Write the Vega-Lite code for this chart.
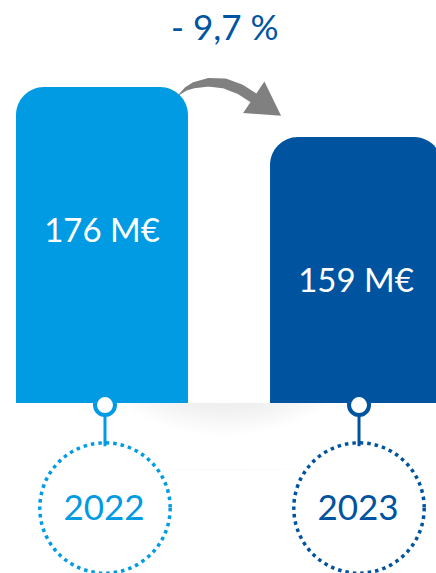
{
  "$schema": "https://vega.github.io/schema/vega-lite/v6.json",
  "width": 436,
  "height": 573,
  "padding": 0,
  "autosize": "none",
  "background": "white",
  "config": {"view": {"stroke": null}, "font": "Lato"},
  "datasets": {
    "bars": [
      {"year": "2022", "value": 176, "label": "176 M€"},
      {"year": "2023", "value": 159, "label": "159 M€"}
    ],
    "arrow": [
      {"i": 0, "x": 184, "y": 173.2, "w": 0.5},
      {"i": 1, "x": 192, "y": 175.4, "w": 3.5},
      {"i": 2, "x": 200, "y": 176.6, "w": 6},
      {"i": 3, "x": 215, "y": 177.6, "w": 8.5},
      {"i": 4, "x": 232, "y": 177.2, "w": 10},
      {"i": 5, "x": 248, "y": 175.2, "w": 10.5},
      {"i": 6, "x": 264, "y": 171.8, "w": 10.5}
    ],
    "head": [{"x": 276, "y": 169.4}],
    "shadow": [{"x": 30, "x2": 436, "y": 68.6, "y2": 46}],
    "title": [{"x": 232, "y": 195.8, "t": "- 9,7 %"}]
  },
  "resolve": {"scale": {"x": "independent"}},
  "layer": [
    {
      "layer": [
        {
          "data": {"name": "shadow"},
          "mark": {
            "type": "rect",
            "strokeWidth": 0,
            "fill": {
              "gradient": "radial",
              "x1": 0.5, "y1": 0, "r1": 0,
              "x2": 0.5, "y2": 0, "r2": 0.5,
              "stops": [
                {"offset": 0, "color": "rgba(0,0,0,0.5)"},
                {"offset": 0.45, "color": "rgba(0,0,0,0.32)"},
                {"offset": 0.75, "color": "rgba(0,0,0,0.1)"},
                {"offset": 1, "color": "rgba(0,0,0,0)"}
              ]
            }
          },
          "encoding": {
            "x": {"field": "x", "type": "quantitative", "scale": {"domain": [0, 436]}, "axis": null},
            "x2": {"field": "x2"},
            "y": {"field": "y", "type": "quantitative", "scale": {"domain": [10.8, 205.6], "nice": false, "zero": false}, "axis": null},
            "y2": {"field": "y2"}
          }
        },
        {
          "data": {"name": "arrow"},
          "mark": {"type": "trail", "color": "#808080"},
          "encoding": {
            "x": {"field": "x", "type": "quantitative"},
            "y": {"field": "y", "type": "quantitative"},
            "order": {"field": "i"},
            "size": {"field": "w", "type": "quantitative", "scale": {"type": "linear", "domain": [0, 10.5], "range": [0, 10.5], "zero": true}, "legend": null}
          }
        },
        {
          "data": {"name": "head"},
          "mark": {"type": "point", "shape": "triangle-up", "filled": true, "color": "#808080", "opacity": 1, "size": 1450, "angle": 124},
          "encoding": {
            "x": {"field": "x", "type": "quantitative"},
            "y": {"field": "y", "type": "quantitative"}
          }
        },
        {
          "data": {"name": "title"},
          "mark": {"type": "text", "fontSize": 35, "color": "#0054a0", "baseline": "middle", "align": "center"},
          "encoding": {
            "x": {"field": "x", "type": "quantitative"},
            "y": {"field": "y", "type": "quantitative"},
            "text": {"field": "t"}
          }
        }
      ]
    },
    {
      "data": {"name": "bars"},
      "encoding": {
        "x": {
          "field": "year", "type": "nominal", "axis": null,
          "scale": {"range": [16, 442], "paddingInner": 0.323, "paddingOuter": 0}
        },
        "color": {
          "field": "year", "type": "nominal", "legend": null,
          "scale": {"domain": ["2022", "2023"], "range": ["#009be2", "#00539f"]}
        }
      },
      "layer": [
        {
          "mark": {"type": "bar", "cornerRadiusTopLeft": 28, "cornerRadiusTopRight": 28, "opacity": 1},
          "encoding": {
            "y": {"field": "value", "type": "quantitative"},
            "y2": {"datum": 68.6}
          }
        },
        {
          "mark": {"type": "text", "fontSize": 33, "color": "white", "baseline": "middle", "dy": 145},
          "encoding": {
            "y": {"field": "value", "type": "quantitative"},
            "text": {"field": "label"},
            "color": {"value": "white"}
          }
        },
        {
          "mark": {"type": "rule", "strokeWidth": 3, "xOffset": 3},
          "encoding": {
            "y": {"datum": 64.5},
            "y2": {"datum": 53.9},
            "stroke": {"field": "year", "type": "nominal", "legend": null, "scale": {"domain": ["2022", "2023"], "range": ["#009be2", "#00539f"]}}
          }
        },
        {
          "mark": {"type": "point", "shape": "circle", "filled": false, "fill": "white", "fillOpacity": 1, "strokeWidth": 4, "size": 400, "opacity": 1, "xOffset": 3},
          "encoding": {
            "y": {"datum": 67.9},
            "stroke": {"field": "year", "type": "nominal", "legend": null}
          }
        },
        {
          "mark": {"type": "point", "shape": "circle", "filled": false, "fill": null, "strokeWidth": 3.5, "strokeDash": [3.5, 4], "size": 17000, "opacity": 1, "xOffset": 3},
          "encoding": {
            "y": {"datum": 32.9},
            "stroke": {"field": "year", "type": "nominal", "legend": null}
          }
        },
        {
          "mark": {"type": "text", "fontSize": 35, "baseline": "middle", "xOffset": 2},
          "encoding": {
            "y": {"datum": 32.7},
            "text": {"field": "year"}
          }
        }
      ]
    }
  ]
}
